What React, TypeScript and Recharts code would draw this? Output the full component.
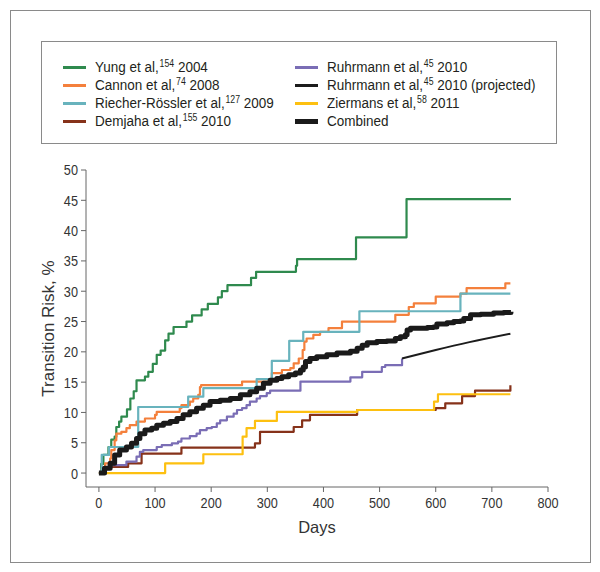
import React from "react";
import { LineChart, Line, XAxis, YAxis } from "recharts";

// [day, transition risk %]
const yung = [
  [0, 0], [4, 1.5], [8, 3.0], [17, 4.3], [22, 5.5], [28, 6.0], [31, 7.6], [36, 8.5],
  [40, 9.3], [50, 10.5], [56, 12.3], [62, 13.5], [67, 15.3], [82, 15.9], [88, 16.7],
  [96, 18.0], [103, 19.5], [110, 20.2], [118, 21.9], [124, 23.0], [133, 24.1],
  [156, 25.0], [166, 26.0], [183, 27.0], [194, 27.9], [212, 29.0], [219, 30.0],
  [229, 31.0], [271, 32.2], [280, 33.2], [351, 34.2], [353, 35.3], [458, 38.9],
  [548, 45.2], [734, 45.2],
];
const cannon = [
  [0, 0], [5, 0.8], [11, 1.6], [20, 2.4], [22, 3.8], [28, 5.4], [31, 6.5], [40, 6.8],
  [49, 7.4], [55, 7.9], [67, 8.5], [82, 9.0], [100, 9.6], [103, 10.1], [144, 10.7],
  [147, 11.2], [162, 11.8], [168, 12.3], [177, 12.9], [180, 14.2], [182, 14.5],
  [255, 15.1], [305, 15.3], [308, 16.5], [326, 17.0], [341, 17.3], [347, 18.1],
  [356, 18.9], [363, 20.3], [366, 21.7], [370, 22.2], [382, 22.8], [394, 23.3],
  [409, 23.9], [433, 25.0], [528, 26.1], [552, 27.4], [561, 28.0], [600, 29.1],
  [644, 29.6], [655, 30.5], [724, 31.3], [733, 31.3],
];
const riecher = [
  [0, 0], [5, 3.0], [18, 4.3], [70, 10.9], [159, 12.6], [186, 14.0], [281, 15.5],
  [308, 18.5], [339, 21.8], [364, 23.3], [464, 26.7], [644, 29.6], [733, 29.6],
];
const demjaha = [
  [0, 0], [11, 1.0], [52, 1.6], [76, 3.2], [147, 4.2], [278, 4.9], [287, 6.8],
  [347, 7.6], [362, 8.7], [376, 9.6], [460, 10.4], [600, 10.7], [617, 11.5],
  [647, 12.7], [670, 13.6], [733, 14.5],
];
const ruhrmann = [
  [0, 0], [10, 0.8], [20, 1.3], [49, 1.9], [67, 2.7], [73, 3.5], [79, 3.8], [103, 4.3],
  [112, 4.6], [130, 4.9], [141, 5.2], [147, 5.7], [162, 6.1], [174, 6.5], [180, 7.1],
  [192, 7.4], [201, 7.6], [210, 8.2], [216, 8.7], [228, 9.3], [240, 9.8], [246, 10.4],
  [255, 10.7], [263, 11.2], [269, 11.8], [281, 12.3], [287, 12.7], [299, 13.2],
  [305, 13.6], [359, 15.1], [448, 15.8], [469, 16.7], [504, 17.5], [510, 17.8],
  [540, 18.9],
];
const ruhrmannProjected = [[540, 18.9], [600, 20.3], [660, 21.6], [733, 23.0]];
const ziermans = [
  [0, 0], [118, 1.6], [186, 3.1], [256, 6.0], [263, 7.4], [278, 8.6], [317, 10.1],
  [460, 10.4], [597, 11.8], [604, 13.0], [733, 13.0],
];
const combined = [
  [0, 0], [10, 0.8], [20, 1.6], [28, 3.0], [37, 3.8], [49, 4.3], [58, 4.9], [67, 5.7],
  [73, 6.5], [82, 7.1], [94, 7.4], [103, 7.9], [115, 8.2], [127, 8.5], [139, 9.0],
  [150, 9.6], [162, 10.1], [174, 10.7], [186, 11.2], [198, 11.8], [216, 12.0],
  [234, 12.3], [252, 12.9], [269, 13.4], [281, 14.0], [293, 14.8], [305, 15.3],
  [317, 15.6], [326, 15.9], [338, 16.2], [350, 16.5], [359, 17.0], [364, 17.5],
  [368, 18.4], [376, 18.9], [388, 19.2], [406, 19.5], [424, 19.8], [448, 20.1],
  [460, 20.6], [469, 21.1], [478, 21.5], [495, 21.7], [513, 21.8], [528, 22.2],
  [537, 22.5], [546, 22.8], [549, 23.6], [555, 23.9], [585, 24.0], [596, 24.1],
  [602, 24.6], [620, 24.8], [632, 25.0], [644, 25.1], [650, 25.5], [662, 26.1],
  [680, 26.2], [703, 26.4], [721, 26.5], [734, 26.6],
];

const xTicks = [0, 100, 200, 300, 400, 500, 600, 700, 800];
const yTicks = [0, 5, 10, 15, 20, 25, 30, 35, 40, 45, 50];

// no narrow font installed, so Arial-metric Liberation Sans squeezed horizontally
const FONT = "'Liberation Sans', Arial, sans-serif";
const SQUEEZE = 0.82;
const LEGEND_SQUEEZE = 0.87;

const toRows = (pts: number[][]) => pts.map(([day, v]) => ({ day, v }));

const series = [
  { key: "yung", name: "Yung et al,", sup: "154", year: " 2004", data: yung, color: "#2f8a4e", width: 2.2, type: "stepAfter" },
  { key: "cannon", name: "Cannon et al,", sup: "74", year: " 2008", data: cannon, color: "#f4803c", width: 2.2, type: "stepAfter" },
  { key: "riecher", name: "Riecher-Rössler et al,", sup: "127", year: " 2009", data: riecher, color: "#68b3bd", width: 2.2, type: "stepAfter" },
  { key: "demjaha", name: "Demjaha et al,", sup: "155", year: " 2010", data: demjaha, color: "#86321a", width: 2.2, type: "stepAfter" },
  { key: "ruhrmann", name: "Ruhrmann et al,", sup: "45", year: " 2010", data: ruhrmann, color: "#7a6db5", width: 2.2, type: "stepAfter" },
  { key: "projected", name: "Ruhrmann et al,", sup: "45", year: " 2010 (projected)", data: ruhrmannProjected, color: "#1c1c1c", width: 2, type: "monotone" },
  { key: "ziermans", name: "Ziermans et al,", sup: "58", year: " 2011", data: ziermans, color: "#fdc010", width: 2.2, type: "stepAfter" },
  { key: "combined", name: "Combined", sup: "", year: "", data: combined, color: "#1a1a1a", width: 5, type: "stepAfter" },
];

const legendOrder = ["yung", "cannon", "riecher", "demjaha", "ruhrmann", "projected", "ziermans", "combined"];

function NarrowTick(props: any) {
  const { x, y, payload, textAnchor, fill, fontSize, verticalAnchor } = props;
  const dy = verticalAnchor === "start" ? "0.71em" : "0.355em";
  return (
    <text
      x={x}
      y={y}
      dy={dy}
      textAnchor={textAnchor}
      fill={fill}
      fontSize={fontSize}
      fontFamily={FONT}
      transform={`translate(${x},0) scale(${SQUEEZE},1) translate(${-x},0)`}
    >
      {payload.value}
    </text>
  );
}

function LegendBox() {
  return (
    <div
      style={{
        position: "absolute",
        left: 33,
        top: 33,
        width: 514,
        height: 101,
        border: "1px solid #8a8a8a",
        background: "#fff",
        fontFamily: FONT,
        fontSize: 15.5,
        color: "#231f20",
        zIndex: 2,
      }}
    >
      {legendOrder.map((k, i) => {
        const s = series.find((d) => d.key === k)!;
        const col = i < 4 ? 0 : 1;
        const row = i % 4;
        return (
          <div
            key={k}
            style={{
              position: "absolute",
              left: col === 0 ? 21 : 253,
              top: 25 + row * 18 - 9,
              height: 18,
              display: "flex",
              alignItems: "center",
              whiteSpace: "nowrap",
            }}
          >
            <span
              style={{
                display: "inline-block",
                width: 23,
                height: k === "combined" ? 5 : 3,
                background: s.color,
                marginRight: 9,
              }}
            />
            <span
              style={{
                display: "inline-block",
                lineHeight: "18px",
                transform: `scaleX(${LEGEND_SQUEEZE})`,
                transformOrigin: "left center",
              }}
            >
              {s.name}
              {s.sup && (
                <sup style={{ fontSize: 10, verticalAlign: "top", lineHeight: "12px", marginLeft: 1 }}>{s.sup}</sup>
              )}
              {s.year}
            </span>
          </div>
        );
      })}
    </div>
  );
}

export default function App() {
  return (
    <div style={{ position: "relative", width: 584, height: 556, fontFamily: FONT }}>
      <div
        style={{
          position: "absolute",
          left: 2,
          top: 2,
          width: 579,
          height: 551,
          border: "1px solid #8a8a8a",
        }}
      />
      <LegendBox />
      <div style={{ position: "absolute", left: 0, top: 0 }}>
        <LineChart width={584} height={556} margin={{ top: 162, right: 44, left: 38, bottom: 17 }}>
          <XAxis
            type="number"
            dataKey="day"
            domain={[-23, 800]}
            ticks={xTicks}
            allowDataOverflow
            tickSize={5}
            tickMargin={5}
            height={60}
            stroke="#666"
            tick={<NarrowTick fill="#333" fontSize={15.5} />}
            label={{ value: "Days", position: "insideBottom", offset: 14, fill: "#333", fontSize: 16.5, fontFamily: FONT }}
          />
          <YAxis
            type="number"
            domain={[-2.3, 50]}
            ticks={yTicks}
            allowDataOverflow
            tickSize={5}
            tickMargin={3}
            width={40}
            stroke="#666"
            tick={<NarrowTick fill="#333" fontSize={15.5} />}
            label={{
              value: "Transition Risk, %",
              angle: -90,
              position: "insideLeft",
              offset: 2,
              fill: "#333",
              fontSize: 17,
              fontFamily: FONT,
              style: { textAnchor: "middle" },
            }}
          />
          {series.map((s) => (
            <Line
              key={s.key}
              data={toRows(s.data)}
              dataKey="v"
              type={s.type as any}
              stroke={s.color}
              strokeWidth={s.width}
              dot={false}
              activeDot={false}
              isAnimationActive={false}
              strokeLinejoin="round"
            />
          ))}
        </LineChart>
      </div>
    </div>
  );
}
